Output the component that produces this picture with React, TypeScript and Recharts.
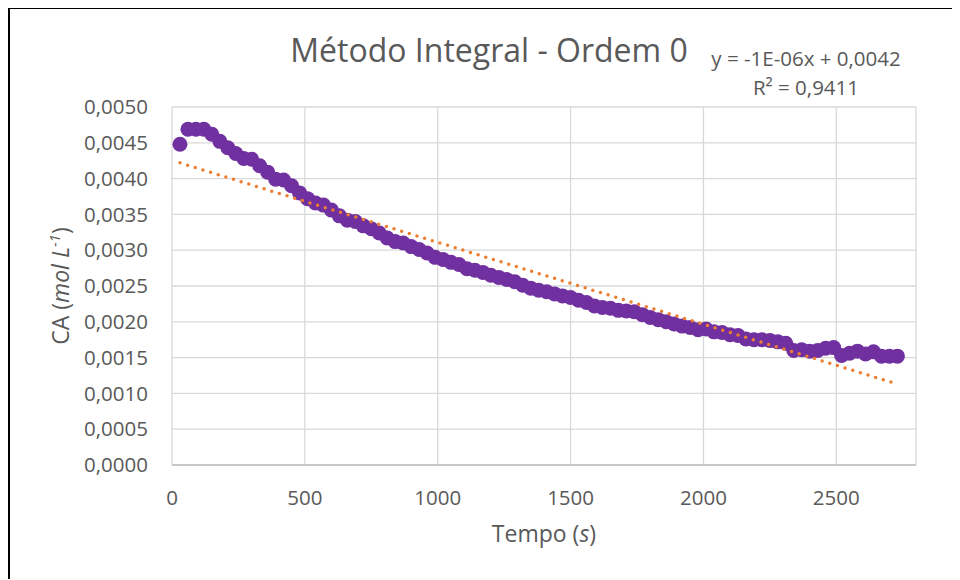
import React from 'react';
import {
  ScatterChart,
  Scatter,
  XAxis,
  YAxis,
  CartesianGrid,
} from 'recharts';

const timeS = [
  30, 60, 90, 120, 150, 180, 210, 240, 270, 300,
  330, 360, 390, 420, 450, 480, 510, 540, 570, 600,
  630, 660, 690, 720, 750, 780, 810, 840, 870, 900,
  930, 960, 990, 1020, 1050, 1080, 1110, 1140, 1170, 1200,
  1230, 1260, 1290, 1320, 1350, 1380, 1410, 1440, 1470, 1500,
  1530, 1560, 1590, 1620, 1650, 1680, 1710, 1740, 1770, 1800,
  1830, 1860, 1890, 1920, 1950, 1980, 2010, 2040, 2070, 2100,
  2130, 2160, 2190, 2220, 2250, 2280, 2310, 2340, 2370, 2400,
  2430, 2460, 2490, 2520, 2550, 2580, 2610, 2640, 2670, 2700,
  2730,
];

const caValues = [
  0.00448, 0.00469, 0.00469, 0.00469, 0.00462, 0.00452, 0.00443, 0.00435, 0.00428, 0.00427,
  0.00418, 0.00409, 0.00399, 0.00398, 0.0039, 0.0038, 0.00372, 0.00366, 0.00363, 0.00356,
  0.00348, 0.00342, 0.0034, 0.00334, 0.0033, 0.00324, 0.00317, 0.00312, 0.0031, 0.00305,
  0.00301, 0.00296, 0.0029, 0.00287, 0.00283, 0.0028, 0.00274, 0.00272, 0.00269, 0.00265,
  0.00262, 0.00259, 0.00256, 0.00251, 0.00247, 0.00244, 0.00242, 0.00239, 0.00236, 0.00234,
  0.0023, 0.00227, 0.00222, 0.0022, 0.00219, 0.00216, 0.00215, 0.00214, 0.0021, 0.00206,
  0.00203, 0.002, 0.00197, 0.00194, 0.00192, 0.00189, 0.0019, 0.00186, 0.00185, 0.00182,
  0.00181, 0.00176, 0.00175, 0.00175, 0.00174, 0.00172, 0.0017, 0.0016, 0.00161, 0.00159,
  0.0016, 0.00163, 0.00164, 0.00153, 0.00156, 0.00159, 0.00155, 0.00158, 0.00152, 0.00152,
  0.00152,
];

// linear trendline ends
const trendTimes = [30, 2730];
const trendValues = [0.00422, 0.00113];

const xTicks = [0, 500, 1000, 1500, 2000, 2500];
const yTicks = [0, 0.0005, 0.001, 0.0015, 0.002, 0.0025, 0.003, 0.0035, 0.004, 0.0045, 0.005];

const FONT = '"Open Sans", sans-serif';
const TEXT = '#595959';

const points = timeS.map((t, i) => ({ x: t, y: caValues[i] }));
const trend = trendTimes.map((t, i) => ({ x: t, y: trendValues[i] }));

const fmtY = (v: number) => v.toFixed(4).replace('.', ',');

const Dot = (p: any) => <circle cx={p.cx} cy={p.cy} r={7.5} fill="#7030A0" />;

const YTitle = (props: any) => {
  const { viewBox } = props;
  const cx = 51;
  const cy = viewBox.y + viewBox.height / 2;
  return (
    <text
      x={cx}
      y={cy}
      dy="0.357em"
      transform={`rotate(-90 ${cx} ${cy})`}
      textAnchor="middle"
      fill={TEXT}
      fontFamily={FONT}
      fontSize={23}
    >
      <tspan>CA (</tspan>
      <tspan fontStyle="italic">mol L</tspan>
      <tspan fontStyle="italic" fontSize={15} dy={-9}>-1</tspan>
      <tspan dy={9}>)</tspan>
    </text>
  );
};

const XTitle = (props: any) => {
  const { viewBox } = props;
  return (
    <text
      x={viewBox.x + viewBox.width / 2}
      y={viewBox.y + 68.5}
      dy="0.357em"
      textAnchor="middle"
      fill={TEXT}
      fontFamily={FONT}
      fontSize={23}
    >
      Tempo (<tspan fontStyle="italic">s</tspan>)
    </text>
  );
};

export default function App() {
  return (
    <div
      style={{
        position: 'relative',
        width: 952,
        height: 572,
        boxSizing: 'border-box',
        borderTop: '2px solid #000',
        borderLeft: '2px solid #000',
        marginTop: -1,
        background: '#fff',
        fontFamily: FONT,
      }}
    >
      <div
        style={{
          position: 'absolute',
          left: 479 - 300,
          width: 600,
          top: 25,
          lineHeight: '32px',
          fontSize: 32,
          color: TEXT,
          textAlign: 'center',
          whiteSpace: 'nowrap',
        }}
      >
        Método Integral - Ordem 0
      </div>
      <div
        style={{
          position: 'absolute',
          left: 796 - 150,
          width: 300,
          top: 34.5,
          lineHeight: '29.5px',
          fontSize: 20.5,
          color: TEXT,
          textAlign: 'center',
          whiteSpace: 'nowrap',
        }}
      >
        <div>y = -1E-06x + 0,0042</div>
        <div>R² = 0,9411</div>
      </div>
      <div style={{ position: 'absolute', left: 0, top: 1 }}>
        <ScatterChart width={950} height={560} margin={{ top: 97, right: 44, left: 0, bottom: 0 }}>
          <CartesianGrid stroke="#D9D9D9" strokeWidth={1.3} />
          <XAxis
            type="number"
            dataKey="x"
            domain={[0, 2800]}
            ticks={xTicks}
            height={105}
            tickLine={false}
            tickSize={0}
            tickMargin={25}
            axisLine={{ stroke: '#BFBFBF', strokeWidth: 1.5 }}
            tick={{ fill: TEXT, fontSize: 20.5, fontFamily: FONT }}
            label={{ content: (p: any) => <XTitle {...p} /> }}
          />
          <YAxis
            type="number"
            dataKey="y"
            domain={[0, 0.005]}
            ticks={yTicks}
            width={162}
            tickLine={false}
            tickSize={0}
            tickMargin={24}
            axisLine={false}
            tickFormatter={fmtY}
            tick={{ fill: TEXT, fontSize: 20.5, fontFamily: FONT }}
            label={{ content: (p: any) => <YTitle {...p} /> }}
          />
          <Scatter data={points} shape={Dot} isAnimationActive={false} />
          <Scatter
            data={trend}
            shape={() => <g />}
            line={{ stroke: '#ED7D31', strokeWidth: 3.5, strokeDasharray: '0 8', strokeLinecap: 'round' }}
            isAnimationActive={false}
          />
        </ScatterChart>
      </div>
    </div>
  );
}
